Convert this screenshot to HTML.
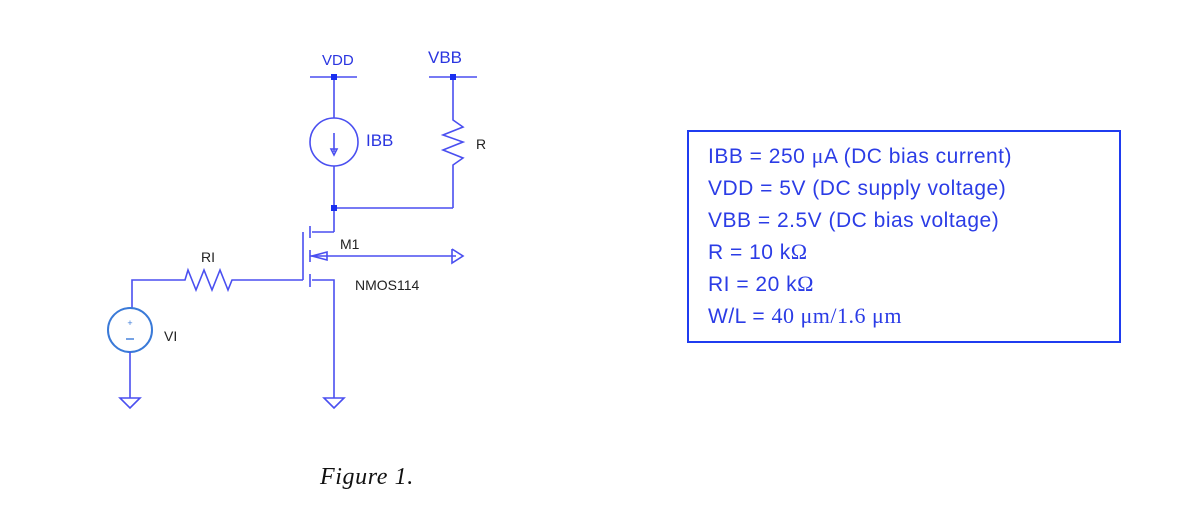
<!DOCTYPE html>
<html><head><style>
body{margin:0;background:#fff;width:1195px;height:513px;overflow:hidden;position:relative;font-family:"Liberation Sans",sans-serif}
.box{position:absolute;left:687px;top:130px;width:430px;height:209px;border:2px solid #1f3cf0}
.box div{position:absolute;left:19px;font-size:21px;line-height:26px;height:26px;letter-spacing:0.5px;color:#2b3ce6;white-space:nowrap}
.box span{font-family:"Liberation Serif",serif;font-size:22px;line-height:20px}
.fig{position:absolute;left:320px;top:464px;font-family:"Liberation Serif",serif;font-style:italic;font-size:24px;letter-spacing:0.6px;color:#111}
</style></head><body>
<svg width="1195" height="513" style="position:absolute;left:0;top:0" font-family="Liberation Sans, sans-serif">
<g stroke="#4a4ff0" stroke-width="1.6" fill="none">
<line x1="310" y1="77" x2="357" y2="77"/><line x1="429" y1="77" x2="477" y2="77"/>
<line x1="334" y1="77" x2="334" y2="118"/>
<circle cx="334" cy="142" r="24"/>
<line x1="334" y1="133" x2="334" y2="152"/><polygon points="331,149 337,149 334,155"/>
<line x1="334" y1="166" x2="334" y2="232"/>
<line x1="334" y1="208" x2="453" y2="208"/>
<polyline points="453,77 453,120 463,127 443,135 463,142 443,150 463,158 453,165 453,208"/>
<line x1="334" y1="232" x2="312" y2="232"/>
<line x1="310" y1="226" x2="310" y2="238"/><line x1="310" y1="250" x2="310" y2="262"/><line x1="310" y1="274" x2="310" y2="287"/>
<line x1="303" y1="232" x2="303" y2="280"/>
<line x1="310" y1="256" x2="456" y2="256"/>
<polygon points="312,256 327,252 327,260"/>
<polyline points="452,249 463,256 452,263 452,249"/>
<polyline points="312,280 334,280 334,398"/>
<polyline points="303,280 232,280 228,290 220,270 212,290 204,270 196,290 188,270 185,280 132,280 132,308"/>
<circle cx="130" cy="330" r="22" stroke="#3a7ad8" stroke-width="2"/>
<line x1="130" y1="352" x2="130" y2="398"/>
<polygon points="122,398 142,398 132,408" transform="translate(-2,0)"/>
<polygon points="324,398 344,398 334,408"/>
</g>
<rect x="331" y="74" width="6" height="6" fill="#1a2ff0"/><rect x="450" y="74" width="6" height="6" fill="#1a2ff0"/>
<rect x="331" y="205" width="6" height="6" fill="#1a2ff0"/>
<text x="130" y="326" font-size="9" fill="#3a7ad8" text-anchor="middle">+</text>
<line x1="126" y1="339" x2="134" y2="339" stroke="#3a7ad8" stroke-width="1.4"/>
<g font-size="15" fill="#2a35e0">
<text x="322" y="65">VDD</text><text x="428" y="63" font-size="17">VBB</text>
<text x="366" y="146" font-size="17">IBB</text>
</g>
<g font-size="14" fill="#222">
<text x="476" y="149">R</text><text x="201" y="262">RI</text><text x="340" y="249">M1</text>
<text x="355" y="290">NMOS114</text><text x="164" y="341">VI</text>
</g>
</svg>
<div class="box">
<div style="top:12px">IBB = 250 <span>μ</span>A (DC bias current)</div>
<div style="top:44px">VDD = 5V (DC supply voltage)</div>
<div style="top:76px">VBB = 2.5V (DC bias voltage)</div>
<div style="top:108px">R = 10 k<span>Ω</span></div>
<div style="top:140px">RI = 20 k<span>Ω</span></div>
<div style="top:172px">W/L = <span>40 μm/1.6 μm</span></div>
</div>
<div class="fig">Figure 1.</div>
</body></html>
